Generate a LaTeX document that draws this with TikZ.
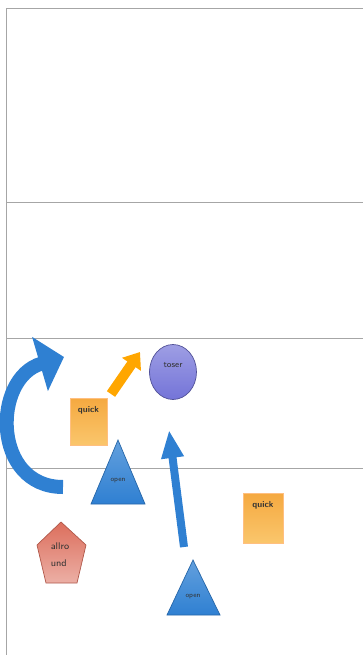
\documentclass[tikz,border=0pt]{standalone}
\usetikzlibrary{arrows.meta,shapes.geometric}
\definecolor{playblue}{HTML}{2F80D2}
\definecolor{stickyorange}{HTML}{F5A940}
\definecolor{stickylight}{HTML}{FAC66C}
\definecolor{tosercol}{HTML}{7474D8}
\definecolor{allrocol}{HTML}{DC6E5C}
\begin{document}
\begin{tikzpicture}[x=0.02cm, y=-0.02cm,
    zone/.style={gray!70, line width=0.5pt},
    lbl/.style={font=\sffamily\fontsize{5}{6}\selectfont, text=black!80, inner sep=1pt},
    sticky/.style={draw=orange!50!white, top color=stickyorange, bottom color=stickylight, minimum width=0.74cm, minimum height=0.94cm, inner sep=0pt},
    tri/.style={draw=playblue!80!black, top color=playblue!75, bottom color=playblue, line width=0.4pt},
    move/.style={playblue, line width=0.28cm},
]
    \useasboundingbox (0,0) rectangle (363,655);

    % court lines
    \draw[zone] (6,655) -- (6,8) -- (363,8);
    \draw[zone] (6,202) -- (363,202);
    \draw[zone] (6,338) -- (363,338);
    \draw[zone] (6,468) -- (363,468);

    % players
    \node[ellipse, draw=tosercol!70!black, top color=tosercol!70, bottom color=tosercol, minimum width=0.94cm, minimum height=1.1cm,
          label={[lbl, yshift=4pt]center:toser}] (toser) at (173,372) {};
    \node[sticky, label={[lbl, anchor=north, yshift=-4pt]north:\textbf{quick}}] (quickA) at (88.5,421.5) {};
    \node[sticky, minimum width=0.8cm, minimum height=1.0cm,
          label={[lbl, anchor=north, yshift=-4pt]north:\textbf{quick}}] (quickB) at (263,518) {};

    \shade[tri] (118,440) -- (145,504) -- (91,504) -- cycle;
    \node[lbl, font=\sffamily\fontsize{4}{5}\selectfont] (openA) at (118,481) {open};
    \shade[tri] (193,560) -- (220,615) -- (167,615) -- cycle;
    \node[lbl, font=\sffamily\fontsize{4}{5}\selectfont] (openB) at (193,597) {open};

    \shade[draw=allrocol!80!black, top color=allrocol, bottom color=allrocol!55!white]
        (61,522) -- (86,545) -- (77,583) -- (46,583) -- (37,545) -- cycle;
    \node[lbl, align=left, font=\sffamily\fontsize{5.5}{9.5}\selectfont] (allround) at (60,555) {allro\\und};

    % moves
    \coordinate (runStart) at (63,487);
    \coordinate (runEnd) at (64,357);
    \draw[move, -{Triangle[width=1.1cm, length=0.5cm]}]
        (runStart) .. controls (-8,487) and (-8,378) .. (runEnd);

    \coordinate (passStart) at (111,394);
    \coordinate (passEnd) at (140,352);
    \draw[orange!70!yellow, line width=0.2cm, -{Triangle[width=0.44cm, length=0.3cm]}] (passStart) -- (passEnd);

    \coordinate (attackStart) at (184,547);
    \coordinate (attackEnd) at (169,430);
    \draw[playblue, line width=0.16cm, -{Triangle[width=0.42cm, length=0.56cm]}] (attackStart) -- (attackEnd);
\end{tikzpicture}
\end{document}
